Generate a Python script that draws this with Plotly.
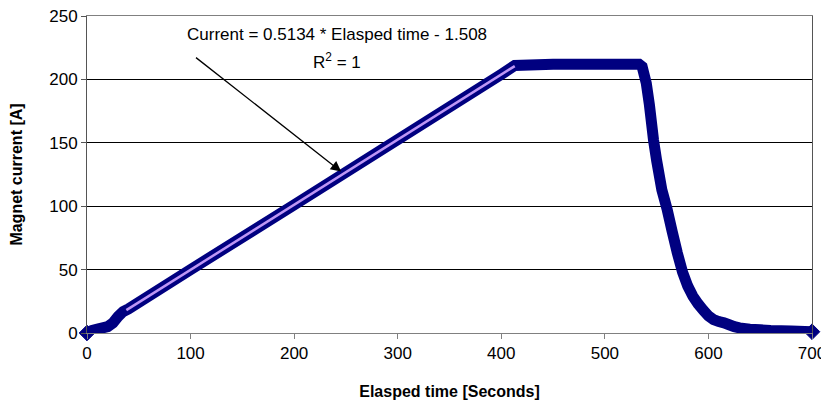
import plotly.graph_objects as go

time_s = [0, 5, 10, 15, 20, 25, 30, 35, 40, 100, 200, 300, 400, 413, 450, 500, 533,
          536, 540, 543, 547, 550, 555, 560, 565, 570, 575, 580, 585, 590, 595, 600,
          605, 610, 615, 620, 625, 630, 640, 650, 660, 680, 700]
current_a = [0, 2, 3, 4, 5, 8, 13, 17, 19, 50, 101, 152.5, 204, 211, 212, 212, 212,
             210, 197, 180, 152, 136, 113, 98, 80, 63, 48, 37, 29, 23, 18, 13.5,
             10.5, 9, 8, 6.5, 5, 4, 3, 2.5, 2, 1.5, 1]

# Linear trendline endpoints
trend_x = [38, 413]
trend_y = [18.0, 210.5]

x_ticks = [0, 100, 200, 300, 400, 500, 600, 700]
y_ticks = [0, 50, 100, 150, 200, 250]

eq_text = "Current = 0.5134 * Elasped time - 1.508"
r2_text = "R<sup>2</sup> = 1"

navy = "#000080"
font = "Liberation Sans, Arial, sans-serif"

marker_sizes = [12 if i in (0, len(time_s) - 1) else 0 for i in range(len(time_s))]

fig = go.Figure()
fig.add_trace(go.Scatter(
    x=time_s, y=current_a, mode="lines+markers",
    line=dict(color=navy, width=11, simplify=False),
    marker=dict(symbol="diamond", size=marker_sizes, color=navy, opacity=1,
                line=dict(width=1, color=navy)),
    hoverinfo="skip", showlegend=False, cliponaxis=False))
fig.add_trace(go.Scatter(
    x=trend_x, y=trend_y, mode="lines",
    line=dict(color="#BE96F5", width=2.5),
    hoverinfo="skip", showlegend=False))

# page body has an 8px margin, so the figure is sized/margined to compensate
fig.update_layout(
    width=821, height=399,
    margin=dict(l=79, r=17, t=8, b=74),
    paper_bgcolor="white", plot_bgcolor="white",
    font=dict(family=font, size=17, color="black"),
    xaxis=dict(range=[0, 700], tickvals=x_ticks, showgrid=False, zeroline=False,
               automargin=False, ticklabeloverflow="allow",
               showline=True, linecolor="#808080", linewidth=1, mirror=True,
               ticks="outside", ticklen=5, tickcolor="#808080",
               tickfont=dict(size=17),
               title=dict(text="<b>Elasped time [Seconds]</b>", font=dict(size=16), standoff=23)),
    yaxis=dict(range=[0, 250], tickvals=y_ticks, showgrid=True, gridcolor="black", gridwidth=1,
               zeroline=False, automargin=False, ticklabeloverflow="allow",
               showline=True, linecolor="#555555", linewidth=1, mirror=True,
               ticks="outside", ticklen=5, tickcolor="#555555",
               tickfont=dict(size=17),
               title=dict(text="<b>Magnet current [A]</b>", font=dict(size=16), standoff=27)),
)

fig.add_annotation(x=240.9, y=235.3, xref="x", yref="y", text=eq_text, showarrow=False,
                   font=dict(size=17, family=font), xanchor="center", yanchor="middle")
fig.add_annotation(x=240.9, y=214.5, xref="x", yref="y", text=r2_text, showarrow=False,
                   font=dict(size=17, family=font), xanchor="center", yanchor="middle")
fig.add_annotation(x=245.4, y=127.3, xref="x", yref="y", ax=103.8, ay=218.1,
                   axref="x", ayref="y", text="", showarrow=True,
                   arrowhead=2, arrowsize=1.6, arrowwidth=1.3, arrowcolor="black", standoff=0)

fig.write_html("out.html")
